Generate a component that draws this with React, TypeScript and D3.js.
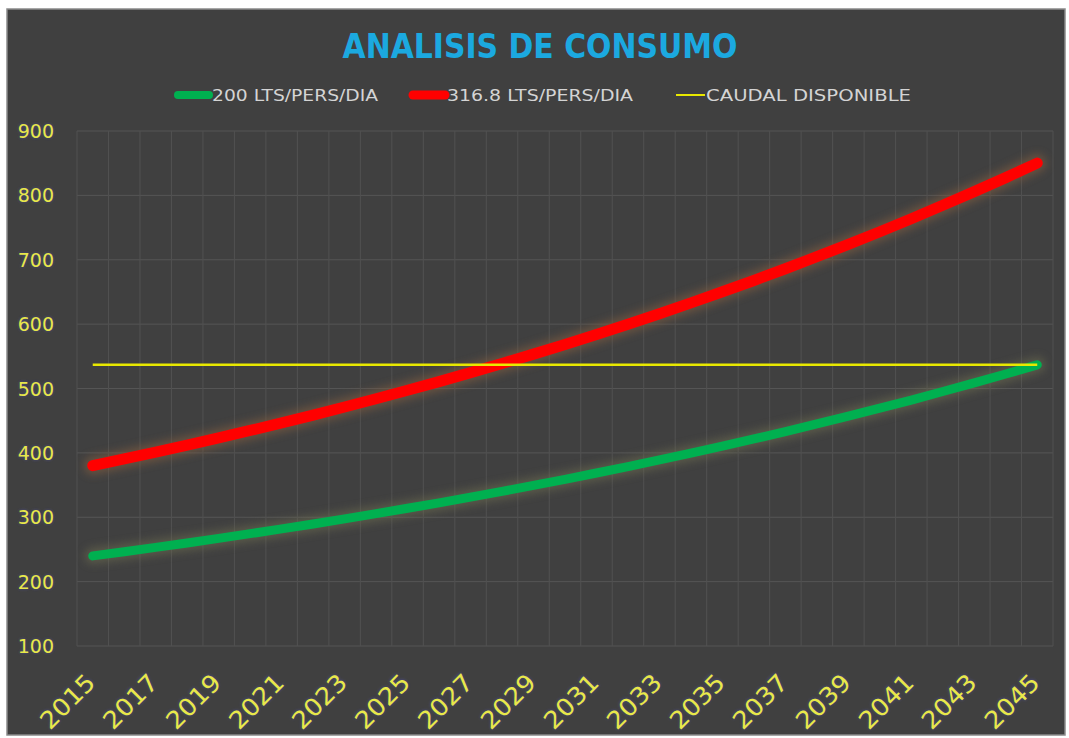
import React from "react";
import * as d3 from "d3";

const years: number[] = [
  2015, 2016, 2017, 2018, 2019, 2020, 2021, 2022, 2023, 2024, 2025, 2026, 2027, 2028, 2029, 2030,
  2031, 2032, 2033, 2034, 2035, 2036, 2037, 2038, 2039, 2040, 2041, 2042, 2043, 2044, 2045,
];

const consumo200: number[] = [
  240.0, 246.5, 253.2, 260.1, 267.2, 274.5, 281.9, 289.6, 297.5, 305.6, 313.9, 322.4, 331.2, 340.2,
  349.4, 358.9, 368.7, 378.7, 389.0, 399.6, 410.5, 421.6, 433.1, 444.9, 457.0, 469.4, 482.1, 495.3,
  508.7, 522.5, 536.7,
];

const consumo3168: number[] = [
  380.2, 390.5, 401.1, 412.0, 423.2, 434.8, 446.5, 458.7, 471.2, 484.1, 497.2, 510.7, 524.6, 538.9,
  553.4, 568.5, 584.0, 599.9, 616.2, 633.0, 650.2, 667.8, 686.0, 704.7, 723.9, 743.5, 763.7, 784.6,
  805.8, 827.6, 850.1,
];

const caudalDisponible: number[] = [
  537, 537, 537, 537, 537, 537, 537, 537, 537, 537, 537, 537, 537, 537, 537, 537,
  537, 537, 537, 537, 537, 537, 537, 537, 537, 537, 537, 537, 537, 537, 537,
];

const yTicks: number[] = [100, 200, 300, 400, 500, 600, 700, 800, 900];
const xTickYears: number[] = [
  2015, 2017, 2019, 2021, 2023, 2025, 2027, 2029, 2031, 2033, 2035, 2037, 2039, 2041, 2043, 2045,
];

const title = "ANALISIS DE CONSUMO";
const legendLabels = ["200 LTS/PERS/DIA", "316.8 LTS/PERS/DIA", "CAUDAL DISPONIBLE"];

export default function App() {
  const W = 1069;
  const H = 738;
  const plotLeft = 77;
  const plotRight = 1053;
  const plotTop = 131;
  const plotBottom = 646;

  const x = d3
    .scaleBand<number>()
    .domain(years)
    .range([plotLeft, plotRight])
    .padding(0);
  const bw = x.bandwidth();
  const cx = (yr: number) => (x(yr) as number) + bw / 2;
  const y = d3.scaleLinear().domain([100, 900]).range([plotBottom, plotTop]);

  const line = d3
    .line<number>()
    .x((_, i) => cx(years[i]))
    .y((d) => y(d));

  const font = "'DejaVu Sans', 'Open Sans', sans-serif";
  const axisColor = "#E8E84A";

  const boundaries = [...years.map((yr) => x(yr) as number), plotRight];

  return (
    <svg
      width={W}
      height={H}
      style={{ position: "absolute", left: 0, top: 0 }}
      xmlns="http://www.w3.org/2000/svg"
    >
      <defs>
        <filter id="glow" x="-10%" y="-30%" width="120%" height="160%">
          <feGaussianBlur stdDeviation="4" />
        </filter>
        <filter id="tglow" x="-20%" y="-20%" width="140%" height="140%">
          <feGaussianBlur stdDeviation="1.5" />
        </filter>
      </defs>
      <rect x={0} y={0} width={W} height={H} fill="#ffffff" />
      <rect x={7} y={9} width={1058} height={726} fill="#404040" stroke="#8a8a8a" strokeWidth={1.5} />

      {/* gridlines */}
      {yTicks.map((t) => (
        <line key={"h" + t} x1={plotLeft} x2={plotRight} y1={y(t)} y2={y(t)} stroke="#555555" strokeWidth={1} />
      ))}
      {boundaries.map((b, i) => (
        <line key={"v" + i} x1={b} x2={b} y1={plotTop} y2={plotBottom} stroke="#515151" strokeWidth={1} />
      ))}

      {/* title */}
      <text
        x={540}
        y={58}
        textAnchor="middle"
        fontFamily={font}
        fontWeight="bold"
        fontSize={33}
        fill="#1BA9E0"
        textLength={395}
        lengthAdjust="spacingAndGlyphs"
      >
        {title}
      </text>

      {/* legend */}
      <g fontFamily={font} fontSize={15} fill="#d4d4d4">
        <line x1={178} x2={209} y1={95} y2={95} stroke="#00B050" strokeWidth={8} strokeLinecap="round" />
        <text x={212} y={101} textLength={166} lengthAdjust="spacingAndGlyphs">{legendLabels[0]}</text>
        <line x1={413} x2={445} y1={95} y2={95} stroke="#FF0000" strokeWidth={9} strokeLinecap="round" />
        <text x={447} y={101} textLength={186} lengthAdjust="spacingAndGlyphs">{legendLabels[1]}</text>
        <line x1={676} x2={705} y1={95} y2={95} stroke="#E8E800" strokeWidth={2} />
        <text x={706} y={101} textLength={205} lengthAdjust="spacingAndGlyphs">{legendLabels[2]}</text>
      </g>

      {/* y axis labels */}
      <g fontFamily={font} fontSize={19}>
        {yTicks.map((t) => (
          <g key={"yl" + t}>
            <text x={54} y={y(t) + 7} textAnchor="end" fill="#4a4a90" filter="url(#tglow)">{t}</text>
            <text x={54} y={y(t) + 7} textAnchor="end" fill={axisColor}>{t}</text>
          </g>
        ))}
      </g>

      {/* x axis labels */}
      <g fontFamily={font} fontSize={24}>
        {xTickYears.map((yr) => {
          const px = cx(yr) + 4;
          const py = 684;
          return (
            <g key={"xl" + yr} transform={`translate(${px},${py}) rotate(-45)`}>
              <text textAnchor="end" fill="#4a4a90" filter="url(#tglow)" textLength={66} lengthAdjust="spacingAndGlyphs">{yr}</text>
              <text textAnchor="end" fill={axisColor} textLength={66} lengthAdjust="spacingAndGlyphs">{yr}</text>
            </g>
          );
        })}
      </g>

      {/* series glows */}
      <path d={line(consumo200) || ""} fill="none" stroke="#6a6a50" strokeWidth={16} strokeLinecap="round" opacity={0.6} filter="url(#glow)" />
      <path d={line(consumo3168) || ""} fill="none" stroke="#7a5a40" strokeWidth={18} strokeLinecap="round" opacity={0.7} filter="url(#glow)" />

      {/* series */}
      <path d={line(consumo200) || ""} fill="none" stroke="#00B050" strokeWidth={9} strokeLinecap="round" strokeLinejoin="round" />
      <path d={line(consumo3168) || ""} fill="none" stroke="#FF0000" strokeWidth={11} strokeLinecap="round" strokeLinejoin="round" />
      <path d={line(caudalDisponible) || ""} fill="none" stroke="#E8E800" strokeWidth={2.5} />
    </svg>
  );
}
